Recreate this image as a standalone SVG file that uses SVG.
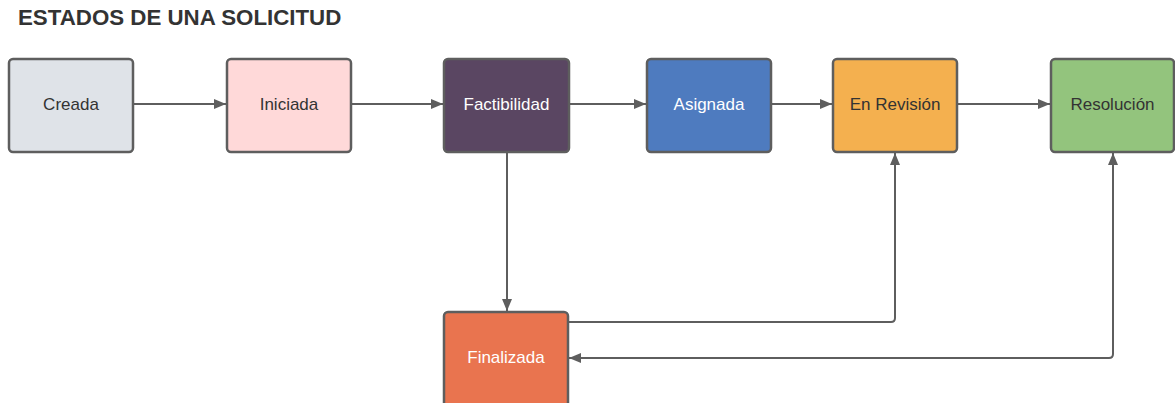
<svg xmlns="http://www.w3.org/2000/svg" width="1175" height="403" viewBox="0 0 1175 403">
<style>
.node{stroke:#5e5e5e;stroke-width:2.5}
.lbl{font-family:"Liberation Sans",Arial,sans-serif;font-size:17px;text-anchor:middle;dominant-baseline:central}
.dark{fill:#333333}
.light{fill:#ffffff}
.edge{fill:none;stroke:#5e5e5e;stroke-width:2}
.title{font-family:"Liberation Sans",Arial,sans-serif;font-size:22.3px;font-weight:bold;fill:#333333}
</style>
<defs>
<marker id="arr" markerWidth="12" markerHeight="10" refX="12" refY="5" orient="auto-start-reverse" markerUnits="userSpaceOnUse">
<path d="M0,0 L12,5 L0,10 z" fill="#5e5e5e"/>
</marker>
</defs>
<rect width="1175" height="403" fill="#ffffff"/>
<text class="title" x="18" y="25">ESTADOS DE UNA SOLICITUD</text>
<g id="connectors">
<path class="edge" d="M133,104 H226" marker-end="url(#arr)"/>
<path class="edge" d="M351,104 H443" marker-end="url(#arr)"/>
<path class="edge" d="M569,104 H646" marker-end="url(#arr)"/>
<path class="edge" d="M771,104 H832" marker-end="url(#arr)"/>
<path class="edge" d="M957,104 H1050" marker-end="url(#arr)"/>
<path class="edge" d="M507,152 V311" marker-end="url(#arr)"/>
<path class="edge" d="M568,322 H891 Q895,322 895,318 V153" marker-end="url(#arr)"/>
<path class="edge" d="M1113,153 V354 Q1113,358 1109,358 H569" marker-start="url(#arr)" marker-end="url(#arr)"/>
</g>
<g id="creada"><rect class="node" x="9" y="59" width="124" height="93" rx="4" fill="#dfe3e8"/><text class="lbl dark" x="71" y="104">Creada</text></g>
<g id="iniciada"><rect class="node" x="227" y="59" width="124" height="93" rx="4" fill="#ffd9d9"/><text class="lbl dark" x="289" y="104">Iniciada</text></g>
<g id="factibilidad"><rect class="node" x="444" y="59" width="125" height="93" rx="4" fill="#5a4662"/><text class="lbl light" x="506.5" y="104">Factibilidad</text></g>
<g id="asignada"><rect class="node" x="647" y="59" width="124" height="93" rx="4" fill="#4e7bbf"/><text class="lbl light" x="709" y="104">Asignada</text></g>
<g id="enrevision"><rect class="node" x="833" y="59" width="124" height="93" rx="4" fill="#f4b04f"/><text class="lbl dark" x="895" y="104">En Revisión</text></g>
<g id="resolucion"><rect class="node" x="1051" y="59" width="123" height="93" rx="4" fill="#93c47d"/><text class="lbl dark" x="1112.5" y="104">Resolución</text></g>
<g id="finalizada"><rect class="node" x="444" y="312" width="124" height="100" rx="4" fill="#e9744f"/><text class="lbl light" x="506" y="357">Finalizada</text></g>
</svg>
